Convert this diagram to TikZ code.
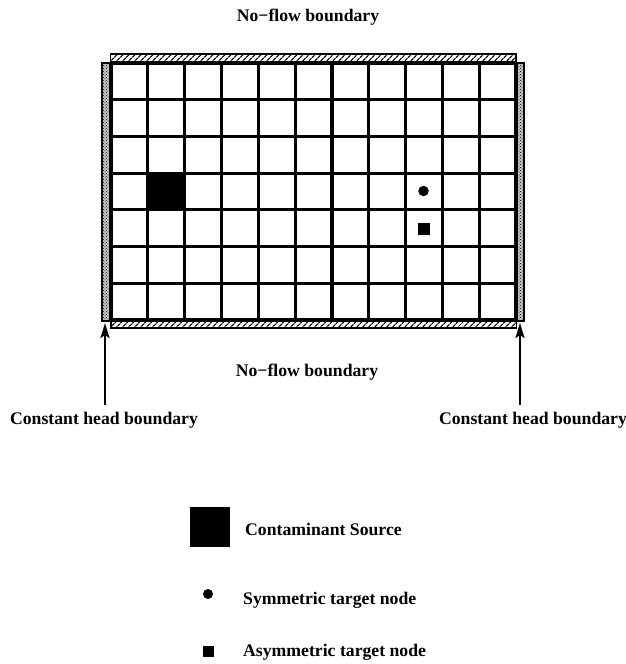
\documentclass[tikz,border=0pt]{standalone}
\usepackage{fontspec}
\setmainfont{Liberation Serif}
\usetikzlibrary{patterns,patterns.meta,arrows.meta}
\begin{document}
\begin{tikzpicture}[x=1pt,y=-1pt,
  lbl/.style={font=\fontsize{17.7}{20}\selectfont\bfseries, inner sep=0pt},
  gridline/.style={line width=3.2pt},
  hstrip/.style={draw, line width=1.8pt, pattern={Lines[angle=45,distance=4pt,line width=1.3pt]}},
  vstripfill/.style={draw, line width=1.8pt, fill=gray!45},
  vstrip/.style={pattern=crosshatch dots},
  bound/.style={line width=2.2pt, -{Stealth[length=15pt,width=9pt,inset=3pt]}}]
\useasboundingbox (0,0) rectangle (626,664);
% boundary strips
\path[hstrip] (110.5,54) rectangle (516,63);
\path[hstrip] (111,320) rectangle (516.5,328);
\path[vstripfill] (102,63) rectangle (111,321);
\path[vstrip] (102,63) rectangle (111,321);
\path[vstripfill] (516,63) rectangle (524,321);
\path[vstrip] (516,63) rectangle (524,321);
% grid
\foreach \i in {0,...,11}{\draw[gridline] (111+\i*36.82,63) -- (111+\i*36.82,320);}
\foreach \j in {0,...,7}{\draw[gridline] (111,63+\j*36.71) -- (516,63+\j*36.71);}
% source and targets
\node[fill=black, minimum size=37pt, inner sep=0pt] (src) at (166.2,191.4) {};
\node[circle, fill=black, minimum size=10.5pt, inner sep=0pt] (sym) at (423.5,191) {};
\node[fill=black, minimum size=12pt, inner sep=0pt] (asym) at (423.5,228.5) {};
% labels
\node[lbl] (top) at (308,17) {No−flow boundary};
\node[lbl] (bot) at (307,372) {No−flow boundary};
\node[lbl] (chl) at (104,420) {Constant head boundary};
\node[lbl] (chr) at (533,420) {Constant head boundary};
\coordinate (lt) at (105,323);
\coordinate (rt) at (520,323);
\coordinate (lb) at (105,405);
\coordinate (rb) at (520,405);
\draw[bound] (lb) -- (lt);
\draw[bound] (rb) -- (rt);
% legend
\node[fill=black, minimum size=40pt, inner sep=0pt] (lsrc) at (209.5,526.5) {};
\node[lbl, anchor=west] (tsrc) at (245,529) {Contaminant Source};
\node[circle, fill=black, minimum size=10pt, inner sep=0pt] (lsym) at (208,594) {};
\node[lbl, anchor=west] (tsym) at (243,600) {Symmetric target node};
\node[fill=black, minimum size=11pt, inner sep=0pt] (lasym) at (208.5,651.5) {};
\node[lbl, anchor=west] (tasym) at (243,652) {Asymmetric target node};
\end{tikzpicture}
\end{document}
